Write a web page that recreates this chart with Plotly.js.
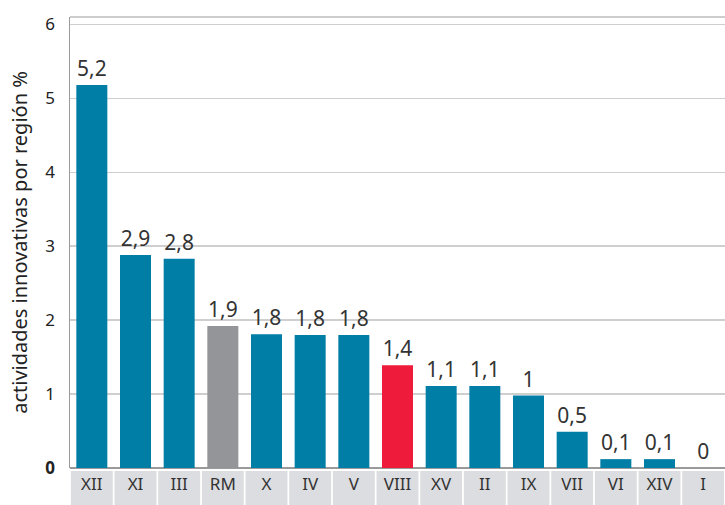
<!DOCTYPE html>
<html>
<head>
<meta charset="utf-8">
<script src="https://cdn.plot.ly/plotly-3.0.1.min.js"></script>
<style>html,body{margin:0;padding:0;background:#fff;}#chart{width:725px;height:505px;}</style>
</head>
<body>
<div id="chart"></div>
<script>
const categories = ["XII","XI","III","RM","X","IV","V","VIII","XV","II","IX","VII","VI","XIV","I"];
const values = [5.18, 2.88, 2.83, 1.92, 1.81, 1.80, 1.80, 1.39, 1.11, 1.11, 0.98, 0.49, 0.12, 0.12, 0];
const valueLabels = ["5,2","2,9","2,8","1,9","1,8","1,8","1,8","1,4","1,1","1,1","1","0,5","0,1","0,1","0"];
const barColors = ["#007ea6","#007ea6","#007ea6","#939598","#007ea6","#007ea6","#007ea6","#ee1b3b","#007ea6","#007ea6","#007ea6","#007ea6","#007ea6","#007ea6","#007ea6"];
const yTicks = [0,1,2,3,4,5,6];
const yTickText = ["<b>0</b>","1","2","3","4","5","6"];

const FONT = "'Noto Sans', 'Open Sans', sans-serif";
const H = 505, T = 17, B = 37;
const plotH = H - T - B;

const shapes = [];
categories.forEach((c, i) => {
  shapes.push({type:"rect", xref:"x", yref:"paper", x0:i-0.48, x1:i+0.48,
    y0:-(B+2)/plotH, y1:-3/plotH, fillcolor:"#dcdde0", line:{width:0}, layer:"below"});
});
// top border
shapes.push({type:"line", xref:"paper", yref:"paper", x0:0, x1:1, y0:1, y1:1, line:{color:"#bdbdbd", width:1.5}});

const trace = {
  type:"bar",
  x: categories,
  y: values,
  text: valueLabels,
  textposition:"outside",
  constraintext:"none",
  cliponaxis:false,
  textfont:{family:FONT, size:21, color:"#333"},
  marker:{color: barColors},
  hoverinfo:"none"
};

const layout = {
  width:725, height:505,
  margin:{l:70, r:0, t:T, b:B},
  paper_bgcolor:"#fff", plot_bgcolor:"#fff",
  bargap:0.29,
  showlegend:false,
  font:{family:FONT, color:"#222"},
  xaxis:{
    type:"category",
    range:[-0.5, categories.length-0.5],
    showgrid:false, zeroline:false, showline:false, ticks:"",
    tickfont:{family:FONT, size:17, color:"#333"},
    ticklabelstandoff:4,
    fixedrange:true
  },
  yaxis:{
    range:[0, 6.1],
    tickvals:yTicks, ticktext:yTickText,
    tickfont:{family:FONT, size:17, color:"#222"},
    showgrid:true, gridcolor:"#cfcfcf", gridwidth:1.5,
    zeroline:true, zerolinecolor:"#9a9a9a", zerolinewidth:2,
    showline:true, linecolor:"#9a9a9a", linewidth:1.5,
    ticks:"", ticklabelstandoff:10,
    title:{text:"actividades innovativas por región %", font:{family:FONT, size:20, color:"#222"}, standoff:12},
    fixedrange:true
  },
  shapes: shapes
};

Plotly.newPlot("chart", [trace], layout, {displayModeBar:false, staticPlot:true});
</script>
</body>
</html>
